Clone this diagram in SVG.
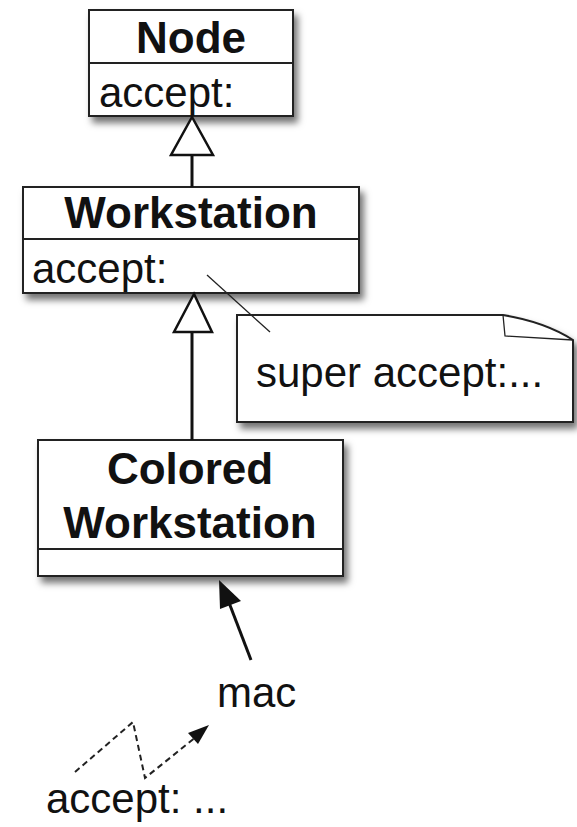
<svg xmlns="http://www.w3.org/2000/svg" width="577" height="827" viewBox="0 0 577 827">
  <style>
    .box { fill: #fff; stroke: #222; stroke-width: 2; }
    .sep { stroke: #222; stroke-width: 2; }
    .title { font-family: "Liberation Sans", Arial, sans-serif; font-weight: bold; font-size: 44px; fill: #111; text-anchor: middle; }
    .txt { font-family: "Liberation Sans", Arial, sans-serif; font-size: 42px; fill: #111; }
    .edge { stroke: #111; stroke-width: 3; fill: none; }
    .dash { stroke: #222; stroke-width: 2; fill: none; stroke-dasharray: 6 4; }
    .thin { stroke: #222; stroke-width: 1.3; fill: none; }
    .hollow { fill: #fff; stroke: #111; stroke-width: 2.5; stroke-linejoin: miter; }
  </style>
  <defs>
    <filter id="shadow" x="-10%" y="-10%" width="125%" height="135%">
      <feDropShadow dx="4" dy="6" stdDeviation="3.5" flood-color="#000" flood-opacity="0.55"/>
    </filter>
  </defs>
  <rect width="577" height="827" fill="#fff"/>

  <!-- Node class -->
  <g id="node-Node">
    <rect class="box" x="89" y="10" width="204" height="106" filter="url(#shadow)"/>
    <line class="sep" x1="89" y1="63" x2="293" y2="63"/>
    <text class="title" x="191" y="53">Node</text>
    <text class="txt" x="99" y="107">accept:</text>
  </g>

  <!-- Workstation class -->
  <g id="node-Workstation">
    <rect class="box" x="23" y="187" width="336" height="106" filter="url(#shadow)"/>
    <line class="sep" x1="23" y1="239" x2="359" y2="239"/>
    <text class="title" x="191" y="228">Workstation</text>
    <text class="txt" x="32" y="283">accept:</text>
  </g>

  <!-- note -->
  <g id="node-note">
    <path class="box" d="M237,315 H503 Q545,322 573,340 V422 H237 Z" filter="url(#shadow)"/>
    <path class="thin" d="M503,315 L505,336 L573,340" fill="#fff"/>
    <text class="txt" x="256" y="387">super accept:...</text>
  </g>

  <!-- ColoredWorkstation class -->
  <g id="node-ColoredWorkstation">
    <rect class="box" x="38" y="440" width="305" height="136" filter="url(#shadow)"/>
    <line class="sep" x1="38" y1="549" x2="343" y2="549"/>
    <text class="title" x="190" y="484">Colored</text>
    <text class="title" x="190" y="538">Workstation</text>
  </g>

  <!-- mac instance -->
  <g id="node-mac">
    <text class="txt" x="217" y="707">mac</text>
  </g>

  <!-- message label -->
  <g id="node-message">
    <text class="txt" x="46" y="813">accept: ...</text>
  </g>

  <!-- connectors -->
  <g id="connectors">
    <!-- Workstation generalizes Node -->
    <line class="edge" x1="192" y1="187" x2="192" y2="155"/>
    <polygon class="hollow" points="192,117 171,155 213,155"/>
    <!-- ColoredWorkstation generalizes Workstation -->
    <line class="edge" x1="192" y1="440" x2="192" y2="332"/>
    <polygon class="hollow" points="194,294 174,332 212,332"/>
    <!-- note anchor -->
    <line class="thin" x1="207" y1="275" x2="270" y2="332"/>
    <!-- mac instance-of arrow -->
    <line class="edge" x1="251" y1="660" x2="228" y2="600"/>
    <polygon points="219,580 220,609 241,601" fill="#111"/>
    <!-- message send -->
    <polyline class="dash" points="75,772 133,722 145,778 196,737"/>
    <polygon points="209,725 188,733 198,744" fill="#111"/>
  </g>
</svg>
